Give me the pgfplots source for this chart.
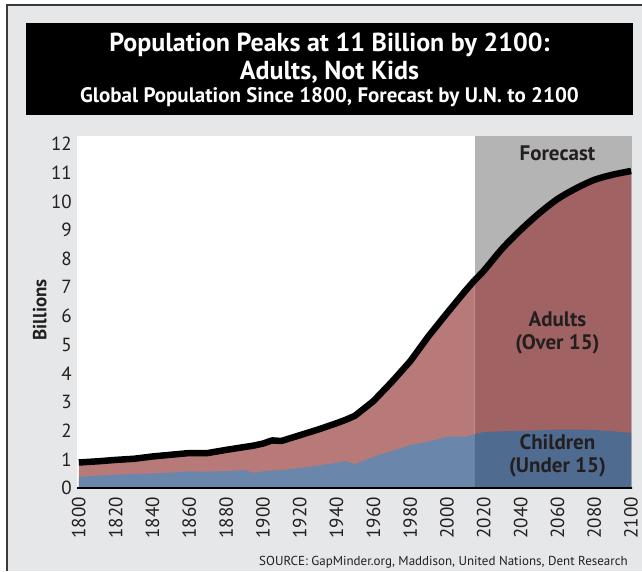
\documentclass[border=0pt]{standalone}
\usepackage{fontspec}
\setmainfont{PT Sans}
\usepackage{pgfplots}
\pgfplotsset{compat=1.18}
\usepackage{pgfplotstable}

\definecolor{bgGray}{HTML}{E6E7E8}
\definecolor{frameGray}{HTML}{3A3A3A}
\definecolor{kidsPast}{HTML}{6A86AB}
\definecolor{kidsFut}{HTML}{4F6B8F}
\definecolor{adultPast}{HTML}{B87A78}
\definecolor{adultFut}{HTML}{A06262}
\definecolor{fcGray}{HTML}{B4B4B4}
\definecolor{txt}{HTML}{231F20}

% year, total population, children (billions)
\pgfplotstableread{
year total kids
1800 0.89 0.39
1810 0.93 0.43
1820 0.98 0.47
1830 1.02 0.49
1840 1.10 0.51
1850 1.16 0.54
1860 1.22 0.58
1870 1.22 0.57
1880 1.33 0.59
1890 1.43 0.63
1895 1.48 0.53
1900 1.55 0.58
1905 1.66 0.61
1910 1.64 0.62
1920 1.84 0.70
1930 2.04 0.78
1940 2.26 0.88
1945 2.38 0.94
1950 2.52 0.83
1960 3.03 1.09
1970 3.70 1.29
1980 4.42 1.50
1990 5.30 1.62
2000 6.10 1.79
2010 6.88 1.79
2015 7.25 1.88
}\past

\pgfplotstableread{
year total kids
2015 7.25 1.88
2020 7.58 1.95
2030 8.35 1.98
2040 9.00 1.99
2050 9.58 2.01
2060 10.08 2.04
2070 10.45 2.04
2080 10.75 2.02
2090 10.93 1.98
2100 11.06 1.92
}\forecast

\begin{document}
\begin{tikzpicture}
\path[use as bounding box] (0pt,0pt) rectangle (642pt,571pt);
\begin{scope}[x=1pt,y=1pt]
\fill[white] (0,0) rectangle (642,571);
\fill[bgGray] (7,0) rectangle (642,565);
\draw[line width=2pt, frameGray] (6.5,0) -- (6.5,565.5) -- (642,565.5);

% title block
\fill[black] (26,456) rectangle (633,548);
\node[white, anchor=base, inner sep=0pt, font=\bfseries\fontsize{26}{28}\selectfont] at (329.5,519) {Population Peaks at 11 Billion by 2100:};
\node[white, anchor=base, inner sep=0pt, font=\bfseries\fontsize{26}{28}\selectfont] at (329.5,491) {Adults, Not Kids};
\node[white, anchor=base, inner sep=0pt, font=\bfseries\fontsize{21}{23}\selectfont] at (329.5,468) {Global Population Since 1800, Forecast by U.N. to 2100};

\node[anchor=base east, inner sep=0pt, font=\fontsize{13}{14}\selectfont, text=txt] at (628,6) {SOURCE: GapMinder.org, Maddison, United Nations, Dent Research};
\end{scope}

\begin{axis}[
  at={(77pt,83pt)}, anchor=south west,
  scale only axis, width=555pt, height=352pt,
  xmin=1799, xmax=2100.5, ymin=0, ymax=12.28,
  axis background/.style={fill=white},
  axis line style={draw=none},
  major tick length=0pt,
  xtick={1800,1820,...,2100},
  ytick={0,1,...,12},
  /pgf/number format/1000 sep=,
  /pgf/number format/assume math mode=true,
  xticklabel style={rotate=90, anchor=east, inner sep=9pt, font=\fontsize{19}{20}\selectfont, text=txt},
  yticklabel style={inner sep=0pt, xshift=-5pt, font=\fontsize{19}{20}\selectfont, text=txt},
  ylabel={Billions},
  ylabel style={at={(axis description cs:-0.067,0.506)}, anchor=center, font=\bfseries\fontsize{19}{20}\selectfont, text=txt},
  clip=true,
]
% forecast backdrop
\addplot[fill=fcGray, draw=none] coordinates {(2015,12.28) (2100.5,12.28)} \closedcycle;

% adults shown as band between children and total
\addplot[fill=adultPast, draw=none] table[x=year, y=total] {\past} \closedcycle;
\addplot[fill=adultFut, draw=none] table[x=year, y=total] {\forecast} \closedcycle;
\addplot[fill=kidsPast, draw=none] table[x=year, y=kids] {\past} \closedcycle;
\addplot[fill=kidsFut, draw=none] table[x=year, y=kids] {\forecast} \closedcycle;

% total
\addplot[black, line width=6.5pt, line join=round] table[x=year, y=total] {\past};
\addplot[black, line width=6.5pt, line join=round, smooth] table[x=year, y=total] {\forecast};

\draw[black, line width=1.5pt] (rel axis cs:-0.004,0) -- (rel axis cs:1.004,0);

\node[font=\bfseries\fontsize{21}{22}\selectfont, text=txt] at (axis cs:2060,11.69) {Forecast};
\node[font=\bfseries\fontsize{21}{23}\selectfont, text=txt, align=center] at (axis cs:2060,5.40) {Adults\\(Over 15)};
\node[font=\bfseries\fontsize{21}{23}\selectfont, text=txt, align=center] at (axis cs:2060,1.13) {Children\\(Under 15)};
\end{axis}
\end{tikzpicture}
\end{document}
